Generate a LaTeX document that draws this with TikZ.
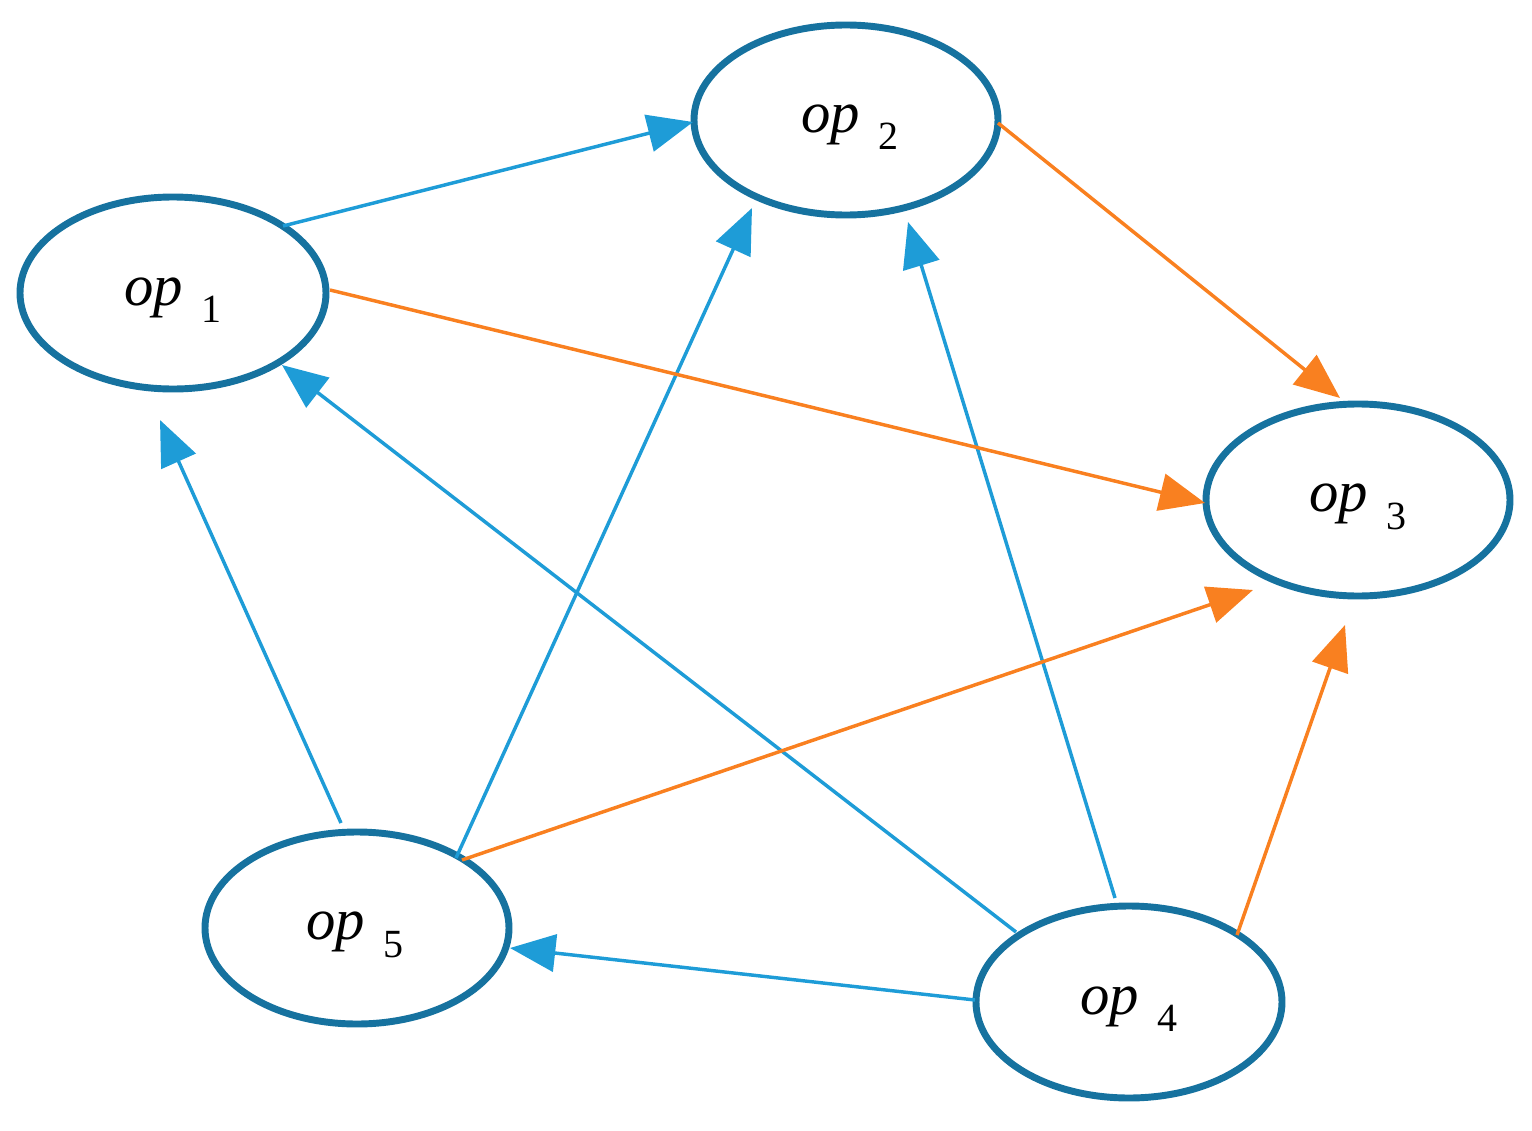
\documentclass[tikz,border=0pt]{standalone}
\usepackage{fontspec}
\setmainfont{Liberation Serif}
\usetikzlibrary{arrows.meta}
\definecolor{ell}{HTML}{16729F}
\definecolor{bl}{HTML}{1E9CD7}
\definecolor{orn}{HTML}{F98020}
\newcommand{\opl}[1]{\fontsize{44}{44}\selectfont\textit{op}\hspace{14pt}\raisebox{-0.3em}{\fontsize{30}{30}\selectfont #1}}
\begin{document}
\begin{tikzpicture}[x=0.75pt,y=-0.75pt,
  el/.style={draw=ell,line width=5.2pt},
  arr/.style={line width=2.6pt,-{Triangle[length=34pt,width=28pt]}},
  b/.style={arr,draw=bl,fill=bl}, o/.style={arr,draw=orn,fill=orn}]
\useasboundingbox (0,0) rectangle (1532,1131);
\draw[el] (173,293) ellipse [x radius=153,y radius=96];
\draw[el] (846,120) ellipse [x radius=152,y radius=95];
\draw[el] (1358,500) ellipse [x radius=152,y radius=96];
\draw[el] (1129,1002) ellipse [x radius=153,y radius=96];
\draw[el] (357,928) ellipse [x radius=152,y radius=96];
\node (n1) at (173,300) {\opl{1}};
\node (n2) at (850,127) {\opl{2}};
\node (n3) at (1358,507) {\opl{3}};
\node (n4) at (1129,1009) {\opl{4}};
\node (n5) at (355,935) {\opl{5}};
\coordinate (a1) at (341,823); \coordinate (b1) at (160,420);
\coordinate (a2) at (283,226); \coordinate (b2) at (693,122);
\coordinate (a3) at (456,858); \coordinate (b3) at (752,208);
\coordinate (a4) at (1016,932); \coordinate (b4) at (282,365);
\coordinate (a5) at (1115,898); \coordinate (b5) at (908,222);
\coordinate (a6) at (975,1000); \coordinate (b6) at (510,948);
\coordinate (a7) at (330,290); \coordinate (b7) at (1205,503);
\coordinate (a8) at (998,123); \coordinate (b8) at (1340,398);
\coordinate (a9) at (462,860); \coordinate (b9) at (1253,590);
\coordinate (a10) at (1237,935); \coordinate (b10) at (1345,625);
\draw[b] (a1) -- (b1);
\draw[b] (a2) -- (b2);
\draw[b] (a3) -- (b3);
\draw[b] (a4) -- (b4);
\draw[b] (a5) -- (b5);
\draw[b] (a6) -- (b6);
\draw[o] (a7) -- (b7);
\draw[o] (a8) -- (b8);
\draw[o] (a9) -- (b9);
\draw[o] (a10) -- (b10);
\end{tikzpicture}
\end{document}
